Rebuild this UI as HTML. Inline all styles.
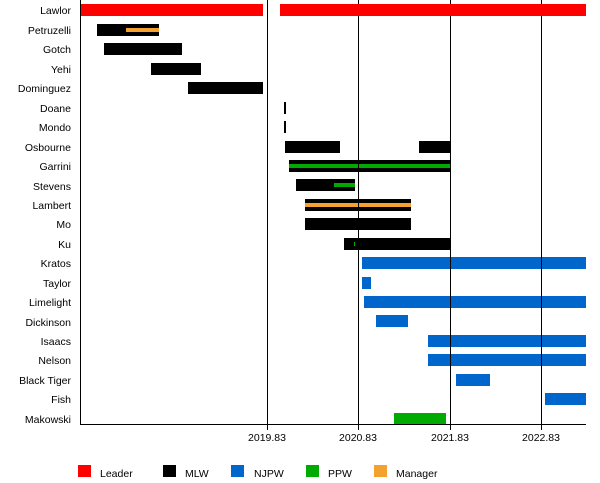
<!DOCTYPE html>
<html><head><style>body{margin:0;background:#fff}svg{display:block}text{font-family:"Liberation Sans",sans-serif;font-size:10.5px;fill:#000}</style></head>
<body>
<svg width="600" height="483" viewBox="0 0 600 483" xmlns="http://www.w3.org/2000/svg">
<g text-anchor="end">
<text x="71" y="14">Lawlor</text>
<text x="71" y="34">Petruzelli</text>
<text x="71" y="53">Gotch</text>
<text x="71" y="73">Yehi</text>
<text x="71" y="92">Dominguez</text>
<text x="71" y="112">Doane</text>
<text x="71" y="131">Mondo</text>
<text x="71" y="151">Osbourne</text>
<text x="71" y="170">Garrini</text>
<text x="71" y="190">Stevens</text>
<text x="71" y="209">Lambert</text>
<text x="71" y="228">Mo</text>
<text x="71" y="248">Ku</text>
<text x="71" y="267">Kratos</text>
<text x="71" y="287">Taylor</text>
<text x="71" y="306">Limelight</text>
<text x="71" y="326">Dickinson</text>
<text x="71" y="345">Isaacs</text>
<text x="71" y="364">Nelson</text>
<text x="71" y="384">Black Tiger</text>
<text x="71" y="403">Fish</text>
<text x="71" y="423">Makowski</text>
</g>
<g fill="#000">
<rect x="97" y="24" width="62" height="12"/>
<rect x="104" y="43" width="78" height="12"/>
<rect x="151" y="63" width="50" height="12"/>
<rect x="188" y="82" width="75" height="12"/>
<rect x="284" y="102" width="2" height="12"/>
<rect x="284" y="121" width="2" height="12"/>
<rect x="285" y="141" width="55" height="12"/>
<rect x="419" y="141" width="32" height="12"/>
<rect x="289" y="160" width="162" height="12"/>
<rect x="296" y="179" width="59" height="12"/>
<rect x="305" y="199" width="106" height="12"/>
<rect x="305" y="218" width="106" height="12"/>
<rect x="344" y="238" width="107" height="12"/>
</g>
<g fill="#f4a12f">
<rect x="126" y="28" width="33" height="4"/>
<rect x="305" y="203" width="106" height="4"/>
</g>
<g fill="#00aa00">
<rect x="289" y="164" width="162" height="4"/>
<rect x="334" y="183" width="21" height="4"/>
<rect x="354" y="242" width="1" height="4"/>
<rect x="394" y="413" width="52" height="11"/>
</g>
<g fill="#0066cc">
<rect x="362" y="257" width="224" height="12"/>
<rect x="362" y="277" width="9" height="12"/>
<rect x="364" y="296" width="222" height="12"/>
<rect x="376" y="315" width="32" height="12"/>
<rect x="428" y="335" width="158" height="12"/>
<rect x="428" y="354" width="158" height="12"/>
<rect x="456" y="374" width="34" height="12"/>
<rect x="545" y="393" width="41" height="12"/>
</g>
<g stroke="#000" stroke-width="1">
<line x1="80.5" y1="0" x2="80.5" y2="424.5"/>
<line x1="80" y1="424.5" x2="586" y2="424.5"/>
<line x1="267.5" y1="0" x2="267.5" y2="430"/>
<line x1="358.5" y1="0" x2="358.5" y2="430"/>
<line x1="450.5" y1="0" x2="450.5" y2="430"/>
<line x1="541.5" y1="0" x2="541.5" y2="430"/>
</g>
<g fill="#ff0000">
<rect x="81" y="4" width="182" height="12"/>
<rect x="280" y="4" width="306" height="12"/>
</g>
<g text-anchor="middle">
<text x="267" y="441">2019.83</text>
<text x="358" y="441">2020.83</text>
<text x="450" y="441">2021.83</text>
<text x="541" y="441">2022.83</text>
</g>
<rect x="78" y="465" width="13" height="12" fill="#ff0000"/><text x="100" y="477">Leader</text>
<rect x="163" y="465" width="13" height="12" fill="#000"/><text x="185" y="477">MLW</text>
<rect x="231" y="465" width="13" height="12" fill="#0066cc"/><text x="254" y="477">NJPW</text>
<rect x="306" y="465" width="13" height="12" fill="#00aa00"/><text x="328" y="477">PPW</text>
<rect x="374" y="465" width="13" height="12" fill="#f4a12f"/><text x="396" y="477">Manager</text>
</svg>
</body></html>
